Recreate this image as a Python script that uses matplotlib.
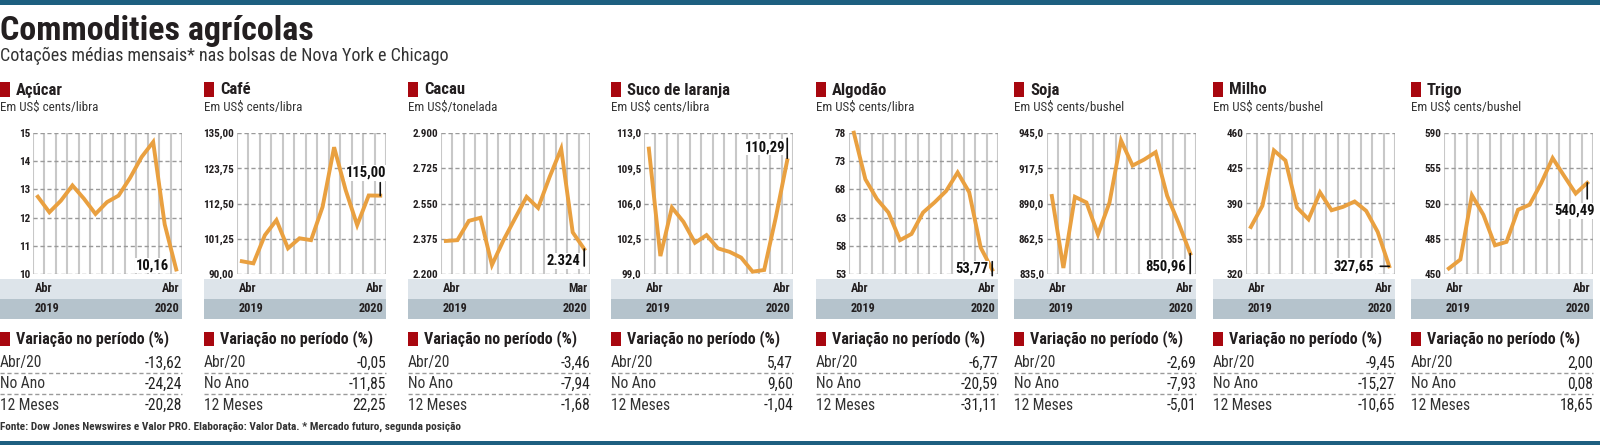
import numpy as np
import matplotlib
matplotlib.use('Agg')
import matplotlib.pyplot as plt
from matplotlib.patches import Rectangle
from matplotlib.lines import Line2D
from matplotlib.transforms import offset_copy

plt.rcParams['font.family'] = ['Roboto Condensed', 'DejaVu Sans']

# --- data ---
names = ['Açúcar', 'Café', 'Cacau', 'Suco de laranja', 'Algodão', 'Soja', 'Milho', 'Trigo']
units = ['Em US$ cents/libra', 'Em US$ cents/libra', 'Em US$/tonelada', 'Em US$ cents/libra',
         'Em US$ cents/libra', 'Em US$ cents/bushel', 'Em US$ cents/bushel', 'Em US$ cents/bushel']

acucar = [12.74, 12.19, 12.60, 13.14, 12.67, 12.13, 12.55, 12.78, 13.41, 14.15, 14.68, 11.76, 10.16]
cafe = [94.07, 93.4, 102.4, 107.2, 98.2, 101.4, 100.8, 111.4, 130.46, 116.8, 105.6, 115.06, 115.00]
cacau = [2364, 2368, 2464, 2479, 2245, 2368, 2476, 2583, 2528, 2682, 2822, 2407, 2324]
suco = [111.45, 100.78, 105.6, 104.18, 102.1, 102.86, 101.54, 101.2, 100.63, 99.23, 99.4, 104.57, 110.29]
algodao = [78.05, 69.8, 66.3, 63.9, 59.0, 60.1, 63.9, 65.7, 67.71, 71.0, 67.5, 57.68, 53.77]
soja = [895.85, 839.7, 895.2, 890.8, 865.9, 890.8, 939.2, 919.6, 924.25, 930.0, 896.0, 874.5, 850.96]
milho = [366.7, 387.7, 442.7, 432.7, 386.0, 374.3, 401.0, 383.3, 386.7, 392.0, 382.7, 361.8, 327.65]
trigo = [455.5, 464.4, 528.2, 508.7, 478.5, 481.9, 513.8, 518.8, 540.06, 565.1, 547.3, 529.9, 540.49]
series = [acucar, cafe, cacau, suco, algodao, soja, milho, trigo]

yticks = [[10, 11, 12, 13, 14, 15],
          [90, 101.25, 112.5, 123.75, 135],
          [2200, 2375, 2550, 2725, 2900],
          [99, 102.5, 106, 109.5, 113],
          [53, 58, 63, 68, 73, 78],
          [835, 862.5, 890, 917.5, 945],
          [320, 355, 390, 425, 460],
          [450, 485, 520, 555, 590]]
ytick_labels = [['10', '11', '12', '13', '14', '15'],
                ['90,00', '101,25', '112,50', '123,75', '135,00'],
                ['2.200', '2.375', '2.550', '2.725', '2.900'],
                ['99,0', '102,5', '106,0', '109,5', '113,0'],
                ['53', '58', '63', '68', '73', '78'],
                ['835,0', '862,5', '890,0', '917,5', '945,0'],
                ['320', '355', '390', '425', '460'],
                ['450', '485', '520', '555', '590']]

end_labels = ['10,16', '115,00', '2.324', '110,29', '53,77', '850,96', '327,65', '540,49']
start_month = ['Abr'] * 8
end_month = ['Abr', 'Abr', 'Mar', 'Abr', 'Abr', 'Abr', 'Abr', 'Abr']
years = ['2019', '2020']

row_names = ['Abr/20', 'No Ano', '12 Meses']
var_abr = ['-13,62', '-0,05', '-3,46', '5,47', '-6,77', '-2,69', '-9,45', '2,00']
var_ano = ['-24,24', '-11,85', '-7,94', '9,60', '-20,59', '-7,93', '-15,27', '0,08']
var_12m = ['-20,28', '22,25', '-1,68', '-1,04', '-31,11', '-5,01', '-10,65', '18,65']

# --- layout (pixels) ---
W, H = 1600, 445
panel_x = [0, 204, 408, 611, 816, 1014, 1213, 1411]
panel_w = 182
label_off = [(-7, 4), (6, 23), (-4, -12), (-2, 13), (-4, 1), (-4, -13), (-15, 0), (8, -28)]
tick_seg = [None, ('v', 0, 13), ('v', 0, -17), ('v', 2, 22), ('v', -6, 8), ('v', 0, -20), ('h', -9, 0), ('v', 0, -16)]

orange = '#e9a040'
red = '#a8070f'
teal = '#1d5f80'
dark = '#231f20'


def fx(x):
    return x / W


def fy(y):
    return 1 - y / H


fig = plt.figure(figsize=(16, 4.45), dpi=100)


def rect(x, y, w, h, color):
    fig.add_artist(Rectangle((fx(x), fy(y + h)), w / W, h / H, transform=fig.transFigure,
                             facecolor=color, edgecolor='none'))


def hline(x0, x1, y, **kw):
    fig.add_artist(Line2D([fx(x0), fx(x1)], [fy(y), fy(y)], transform=fig.transFigure, **kw))


rect(0, 0, W, 5, teal)
rect(0, 441, W, 4, teal)

fig.text(fx(0), fy(31), 'Commodities agrícolas', fontsize=24.5, fontweight='black', color=dark,
         va='center', ha='left')
fig.text(fx(0), fy(56), 'Cotações médias mensais* nas bolsas de Nova York e Chicago', fontsize=13,
         color='#333333', va='center', ha='left')

x = np.arange(13)
vlines = np.linspace(-0.42, 12.5, 14)

for i in range(8):
    bx = panel_x[i]
    # header
    rect(bx, 82, 10, 15, red)
    fig.text(fx(bx + 16), fy(90), names[i], fontsize=12, fontweight='bold', color=dark, va='center')
    fig.text(fx(bx), fy(107), units[i], fontsize=9.4, color='#333333', va='center')

    # chart
    ax = fig.add_axes([fx(bx + 33), fy(274), (panel_w - 33) / W, (274 - 133) / H])
    for v in vlines:
        ax.axvline(v, color='#c8c8c8', lw=1.5, zorder=1)
    for t in yticks[i]:
        ax.axhline(t, color='#9a9a9a', lw=1, dashes=(3, 2), zorder=1)
    ax.plot(x, series[i], color=orange, lw=2.8, zorder=3, clip_on=False, solid_joinstyle='miter')
    ax.set_xlim(vlines[0], vlines[-1])
    ax.set_ylim(yticks[i][0], yticks[i][-1])
    ax.set_xticks([])
    ax.set_yticks(yticks[i])
    ax.set_yticklabels(ytick_labels[i], fontsize=8, fontweight='bold', color=dark)
    ax.tick_params(axis='y', length=0, pad=2)
    for s in ax.spines.values():
        s.set_visible(False)
    ax.patch.set_alpha(0)

    # end value label
    dx, dy = label_off[i]
    ax.annotate(end_labels[i], xy=(x[-1], series[i][-1]), xytext=(dx, dy), textcoords='offset pixels',
                ha='right', va='center', fontsize=10.5, fontweight='bold', color='#111111', zorder=5,
                bbox=dict(fc='white', ec='none', pad=0.6), annotation_clip=False)
    seg = tick_seg[i]
    if seg is not None:
        if seg[0] == 'v':
            t0 = offset_copy(ax.transData, fig=fig, x=0, y=seg[1], units='dots')
            t1 = offset_copy(ax.transData, fig=fig, x=0, y=seg[2], units='dots')
        else:
            t0 = offset_copy(ax.transData, fig=fig, x=seg[1], y=0, units='dots')
            t1 = offset_copy(ax.transData, fig=fig, x=seg[2], y=0, units='dots')
        ax.annotate('', xy=(x[-1], series[i][-1]), xycoords=t0,
                    xytext=(x[-1], series[i][-1]), textcoords=t1,
                    arrowprops=dict(arrowstyle='-', lw=1.2, color='#111111', shrinkA=0, shrinkB=0),
                    zorder=6, annotation_clip=False)

    # x-axis bands
    rect(bx, 279, panel_w, 20, '#dde4ea')
    rect(bx, 299, panel_w, 20, '#b5c3cc')
    fig.text(fx(bx + 35), fy(289), start_month[i], fontsize=8.8, fontweight='bold', color=dark, va='center')
    fig.text(fx(bx + panel_w - 3), fy(289), end_month[i], fontsize=8.8, fontweight='bold', color=dark,
             va='center', ha='right')
    fig.text(fx(bx + 35), fy(309), years[0], fontsize=8.8, fontweight='bold', color=dark, va='center')
    fig.text(fx(bx + panel_w - 3), fy(309), years[1], fontsize=8.8, fontweight='bold', color=dark,
             va='center', ha='right')

    # variation table
    rect(bx, 332, 10, 14, red)
    fig.text(fx(bx + 16), fy(339), 'Variação no período (%)', fontsize=11.5, fontweight='bold', color=dark,
             va='center')
    vals = [var_abr[i], var_ano[i], var_12m[i]]
    for r, ry in enumerate([363, 384, 405]):
        fig.text(fx(bx), fy(ry), row_names[r], fontsize=11.2, color='#333333', va='center')
        fig.text(fx(bx + panel_w), fy(ry), vals[r], fontsize=11.2, color='#222222', va='center', ha='right')
    for sy in [373, 394]:
        hline(bx, bx + panel_w, sy, color='#9a9a9a', lw=1, dashes=(3, 2))

fig.text(fx(0), fy(427), 'Fonte: Dow Jones Newswires e Valor PRO. Elaboração: Valor Data. '
         '* Mercado futuro, segunda posição', fontsize=8.1, fontweight='bold', color='#333333', va='center')

fig.savefig('out.png', dpi=100)
